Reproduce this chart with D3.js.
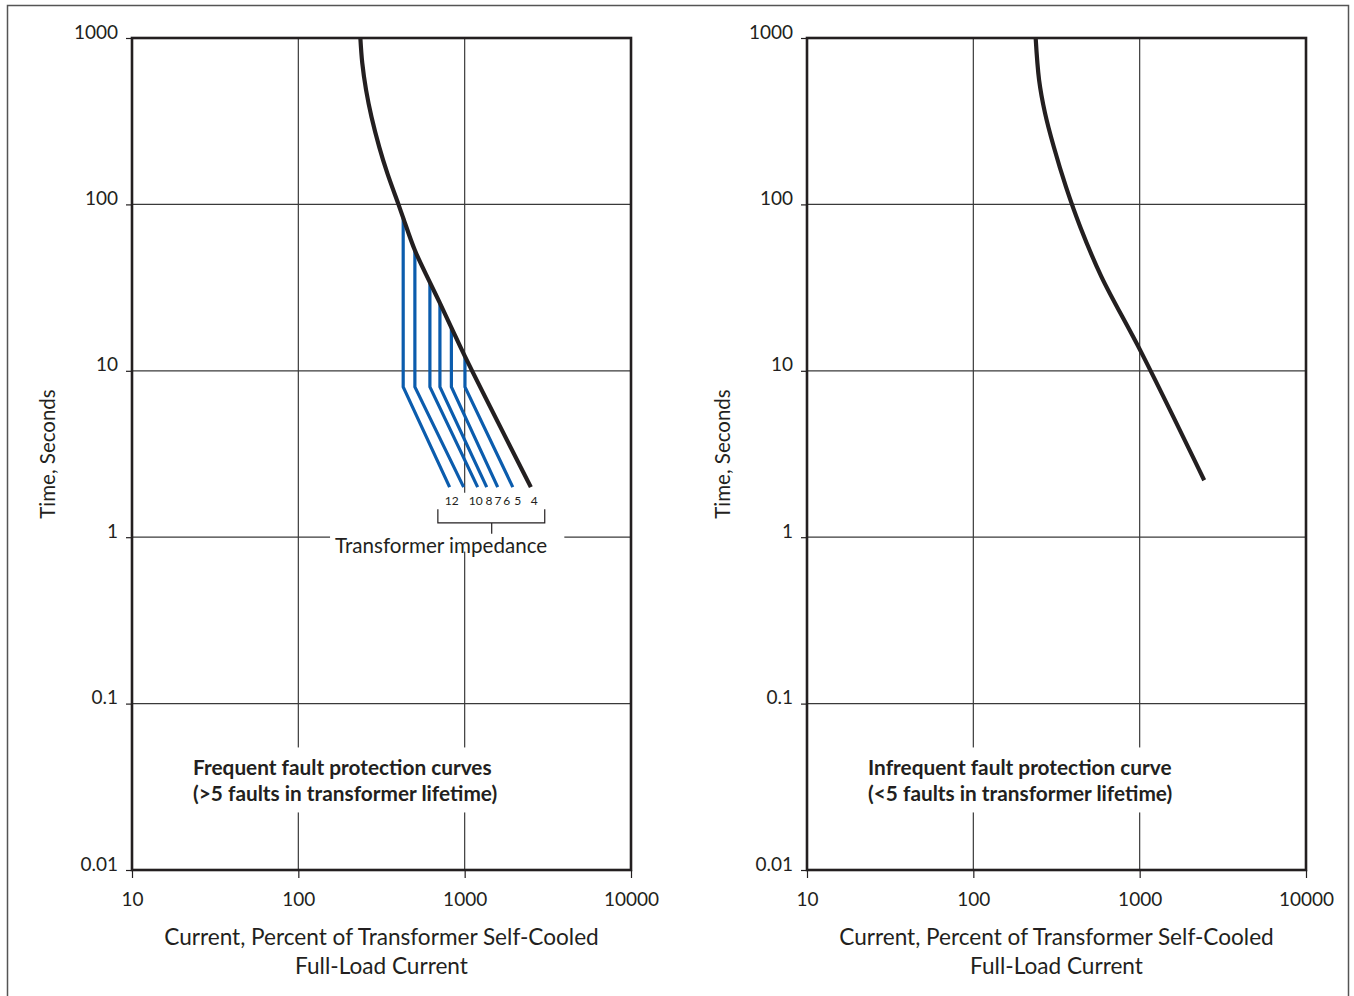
<!DOCTYPE html>
<html lang="en">
<head>
<meta charset="utf-8">
<title>Transformer through-fault protection curves</title>
<script src="https://cdnjs.cloudflare.com/ajax/libs/d3/7.8.5/d3.min.js"></script>
<style>
  body { margin: 0; background: #fff; }
  svg { display: block; font-family: Lato, "Open Sans", sans-serif; }
</style>
</head>
<body>
<div id="chart"></div>
<script>
// tick values on both log axes
const xTicks = [10, 100, 1000, 10000];
const yTicks = [0.01, 0.1, 1, 10, 100, 1000];

// damage curves, [current %, time s]
const frequentCurve = [[236, 1000], [242.3, 707], [255.4, 487], [275.4, 335], [306.6, 221], [342.7, 154],
  [400, 100], [427, 83], [502, 53], [618, 34], [710, 25.5], [832, 18.2], [1004, 12.2], [2500, 2]];
const infrequentCurve = [[237, 1000], [248.5, 560], [269.6, 355], [304.5, 222], [361, 127], [440, 73],
  [588.5, 36.8], [1023, 12.9], [2443, 2.2]];

// frequent fault dog-legs, one per transformer impedance (%)
const impedances = ["12", "10", "8", "7", "6", "5"];
const kneeCurrent = [427, 502, 618, 710, 832, 1004];
const kneeTopTime = [83, 53, 34, 25.5, 18.2, 12.2];
const kneeTime = [8, 8, 8, 8, 8, 8];
const endCurrent = [812, 986, 1197, 1357, 1580, 1946];
const endTime = [2, 2, 2, 2, 2, 2];

// impedance labels under the line ends
const impLabels = ["12", "10", "8", "7", "6", "5", "4"];
const impLabelCurrent = [835, 1165, 1400, 1585, 1791, 2085, 2616];

const width = 1354, height = 996;
const plotW = 499, plotH = 832, plotTop = 38;
const ink = "#231f20";

const svg = d3.select("#chart").append("svg")
  .attr("width", width)
  .attr("height", height);

// outer frame, runs past the bottom edge
svg.append("rect")
  .attr("x", 7.5).attr("y", 5.5)
  .attr("width", 1341).attr("height", 1100)
  .attr("fill", "none")
  .attr("stroke", "#555")
  .attr("stroke-width", 1.5);

function drawPanel(left, curve, note1, note2, withImpedance) {
  const g = svg.append("g").attr("transform", `translate(${left},${plotTop})`);

  const x = d3.scaleLog().domain([10, 10000]).range([0, plotW]);
  const y = d3.scaleLog().domain([0.01, 1000]).range([plotH, 0]);

  // grid
  g.append("g").selectAll("line")
    .data(xTicks.slice(1, -1))
    .join("line")
    .attr("x1", d => x(d)).attr("x2", d => x(d))
    .attr("y1", 0).attr("y2", plotH)
    .attr("stroke", "#3a3a3a").attr("stroke-width", 1.2);
  g.append("g").selectAll("line")
    .data(yTicks.slice(1, -1))
    .join("line")
    .attr("y1", d => y(d)).attr("y2", d => y(d))
    .attr("x1", 0).attr("x2", plotW)
    .attr("stroke", "#3a3a3a").attr("stroke-width", 1.2);

  // axes
  const xAxis = g.append("g")
    .attr("transform", `translate(0,${plotH})`)
    .call(d3.axisBottom(x).tickValues(xTicks).tickFormat(d3.format("~g")).tickSize(8));
  const yAxis = g.append("g")
    .call(d3.axisLeft(y).tickValues(yTicks).tickFormat(d3.format("~g")).tickSize(6));
  [xAxis, yAxis].forEach(a => {
    a.select(".domain").remove();
    a.selectAll(".tick line").attr("stroke", ink).attr("stroke-width", 1.2);
    a.selectAll("text")
      .attr("fill", ink)
      .style("font-size", "19px")
      .style("font-family", "Lato, 'Open Sans', sans-serif");
  });
  xAxis.selectAll("text").attr("y", 23).attr("dy", "0.71em");
  yAxis.selectAll("text").attr("x", -14).attr("dy", "0");

  // frame
  g.append("rect")
    .attr("width", plotW).attr("height", plotH)
    .attr("fill", "none")
    .attr("stroke", ink)
    .attr("stroke-width", 2.6);

  // axis titles
  g.append("text")
    .attr("transform", `translate(-84,${plotH / 2}) rotate(-90)`)
    .attr("text-anchor", "middle")
    .attr("dy", "0.35em")
    .attr("fill", ink)
    .style("font-size", "20.5px")
    .text("Time, Seconds");
  const xt = g.append("text")
    .attr("x", plotW / 2).attr("y", plotH + 75)
    .attr("text-anchor", "middle")
    .attr("fill", ink)
    .style("font-size", "22.6px");
  xt.append("tspan").attr("x", plotW / 2).text("Current, Percent of Transformer Self-Cooled");
  xt.append("tspan").attr("x", plotW / 2).attr("dy", 28.5).text("Full-Load Current");

  // note with a white knockout behind it so grid lines break around it
  const noteG = g.append("g");
  const note = noteG.append("text")
    .attr("x", x(23.3)).attr("y", y(0.037))
    .attr("fill", ink)
    .style("font-size", "20.8px")
    .style("font-weight", "bold");
  note.append("tspan").attr("x", x(23.3)).text(note1);
  note.append("tspan").attr("x", x(23.3)).attr("dy", 26).text(note2);
  const nb = note.node().getBBox();
  noteG.insert("rect", "text")
    .attr("x", nb.x - 8).attr("y", nb.y - 7)
    .attr("width", nb.width + 16).attr("height", nb.height + 14)
    .attr("fill", "#fff");

  const line = d3.line()
    .x(d => x(d[0]))
    .y(d => y(d[1]))
    .curve(d3.curveCatmullRom.alpha(0.5));

  if (withImpedance) {
    const impG = g.append("g");
    impG.selectAll("text.imp")
      .data(impLabels)
      .join("text")
      .attr("class", "imp")
      .attr("x", (d, i) => x(impLabelCurrent[i]))
      .attr("y", y(1.56))
      .attr("text-anchor", "middle")
      .attr("fill", ink)
      .style("font-size", "12px")
      .text(d => d);
    const bx0 = x(690), bx1 = x(3030), bxm = x(1454);
    const by0 = y(1.47), by1 = y(1.22), by2 = y(1.05);
    impG.append("path")
      .attr("d", `M${bx0},${by0}V${by1}H${bx1}V${by0}M${bxm},${by1}V${by2}`)
      .attr("fill", "none")
      .attr("stroke", ink)
      .attr("stroke-width", 1.2);
    impG.append("text")
      .attr("x", x(722)).attr("y", y(0.8))
      .attr("text-anchor", "middle")
      .attr("fill", ink)
      .style("font-size", "20.6px")
      .text("Transformer impedance");
    const ib = impG.node().getBBox();
    impG.insert("rect", ":first-child")
      .attr("x", ib.x - 5).attr("y", y(1.85))
      .attr("width", ib.width + 22).attr("height", y(0.82) - y(1.85))
      .attr("fill", "#fff");

    // dog-leg lines for each impedance
    g.append("g").selectAll("path")
      .data(impedances)
      .join("path")
      .attr("d", (d, i) => d3.line()([
        [x(kneeCurrent[i]), y(kneeTopTime[i])],
        [x(kneeCurrent[i]), y(kneeTime[i])],
        [x(endCurrent[i]), y(endTime[i])]
      ]))
      .attr("fill", "none")
      .attr("stroke", "#0b5cad")
      .attr("stroke-width", 3.2)
      .attr("stroke-linejoin", "miter");
  }

  g.append("path")
    .datum(curve)
    .attr("d", line)
    .attr("fill", "none")
    .attr("stroke", ink)
    .attr("stroke-width", 4.2);
}

drawPanel(132, frequentCurve,
  "Frequent fault protection curves", "(>5 faults in transformer lifetime)", true);
drawPanel(807, infrequentCurve,
  "Infrequent fault protection curve", "(<5 faults in transformer lifetime)", false);
</script>
</body>
</html>
